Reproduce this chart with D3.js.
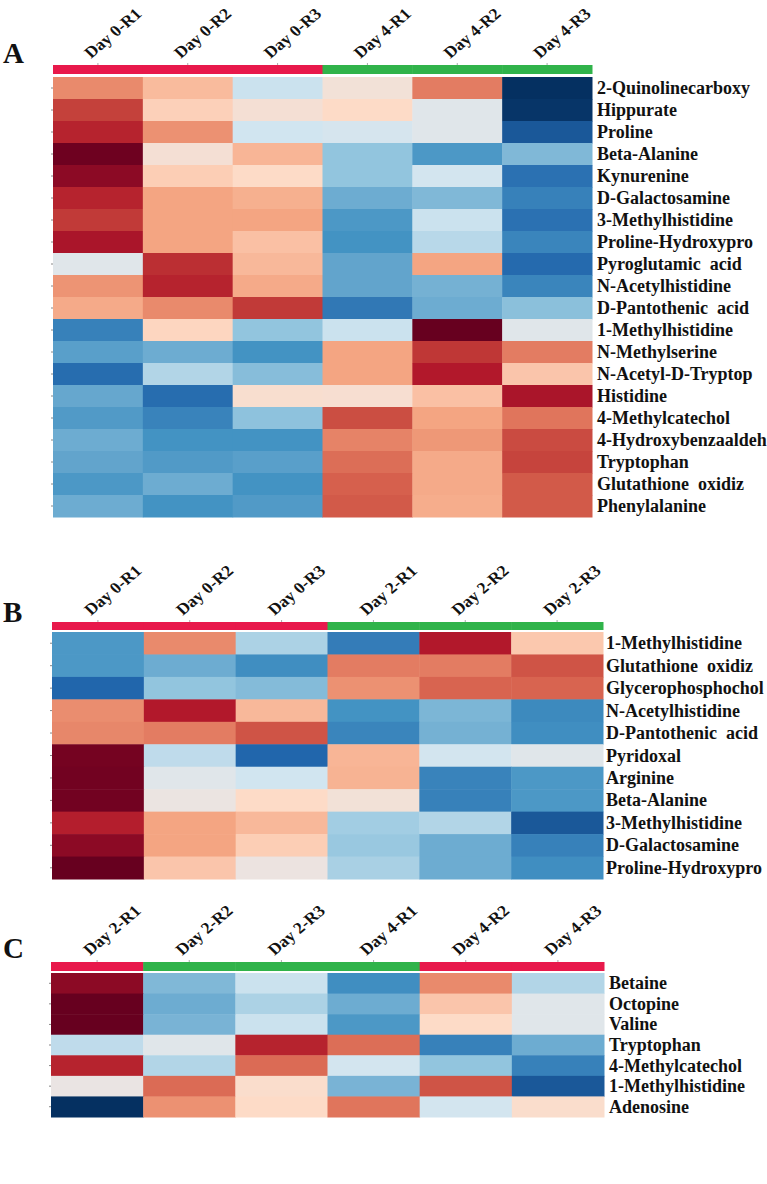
<!DOCTYPE html>
<html><head><meta charset="utf-8">
<script src="https://cdn.jsdelivr.net/npm/d3@7"></script>
<style>
html,body{margin:0;padding:0;background:#fff;}
text{font-family:"Liberation Serif","Times New Roman",serif;font-weight:bold;fill:#111;white-space:pre;}
</style></head>
<body><svg id="chart" width="767" height="1184"></svg>
<script>
// ---------- DATA ----------
const colsA = ["Day 0-R1","Day 0-R2","Day 0-R3","Day 4-R1","Day 4-R2","Day 4-R3"];
const groupA = ["G1","G1","G1","G2","G2","G2"];
const rowsA = ["2-Quinolinecarboxy","Hippurate","Proline","Beta-Alanine","Kynurenine","D-Galactosamine","3-Methylhistidine","Proline-Hydroxypro","Pyroglutamic  acid","N-Acetylhistidine","D-Pantothenic  acid","1-Methylhistidine","N-Methylserine","N-Acetyl-D-Tryptop","Histidine","4-Methylcatechol","4-Hydroxybenzaaldeh","Tryptophan","Glutathione  oxidiz","Phenylalanine"];
const valuesA = [
  [0.48,0.32,-0.22,0.10,0.52,-1.00],
  [0.70,0.24,0.12,0.20,-0.06,-0.98],
  [0.78,0.46,-0.20,-0.15,-0.06,-0.85],
  [0.98,0.12,0.34,-0.40,-0.58,-0.45],
  [0.90,0.25,0.20,-0.40,-0.18,-0.75],
  [0.78,0.40,0.36,-0.50,-0.45,-0.68],
  [0.72,0.40,0.40,-0.58,-0.22,-0.75],
  [0.82,0.40,0.30,-0.60,-0.28,-0.66],
  [-0.06,0.75,0.33,-0.53,0.40,-0.78],
  [0.45,0.78,0.38,-0.53,-0.48,-0.66],
  [0.38,0.48,0.72,-0.72,-0.50,-0.42],
  [-0.68,0.22,-0.40,-0.22,1.00,-0.06],
  [-0.55,-0.50,-0.60,0.40,0.73,0.52],
  [-0.77,-0.30,-0.43,0.40,0.80,0.28],
  [-0.52,-0.77,0.15,0.14,0.30,0.82],
  [-0.57,-0.67,-0.41,0.66,0.40,0.54],
  [-0.50,-0.60,-0.60,0.50,0.44,0.67],
  [-0.53,-0.57,-0.55,0.56,0.38,0.69],
  [-0.58,-0.50,-0.60,0.60,0.38,0.62],
  [-0.50,-0.60,-0.57,0.62,0.37,0.62]
];

const colsB = ["Day 0-R1","Day 0-R2","Day 0-R3","Day 2-R1","Day 2-R2","Day 2-R3"];
const groupB = ["G1","G1","G1","G2","G2","G2"];
const rowsB = ["1-Methylhistidine","Glutathione  oxidiz","Glycerophosphochol","N-Acetylhistidine","D-Pantothenic  acid","Pyridoxal","Arginine","Beta-Alanine","3-Methylhistidine","D-Galactosamine","Proline-Hydroxypro"];
const valuesB = [
  [-0.58,0.48,-0.32,-0.70,0.80,0.27],
  [-0.58,-0.50,-0.62,0.52,0.52,0.64],
  [-0.80,-0.40,-0.44,0.46,0.59,0.59],
  [0.47,0.80,0.33,-0.60,-0.46,-0.64],
  [0.49,0.52,0.64,-0.66,-0.48,-0.62],
  [0.96,-0.26,-0.80,0.34,-0.18,-0.06],
  [0.97,-0.06,-0.20,0.35,-0.67,-0.58],
  [0.97,0.04,0.20,0.10,-0.68,-0.58],
  [0.79,0.40,0.33,-0.35,-0.30,-0.85],
  [0.90,0.40,0.25,-0.38,-0.50,-0.68],
  [1.00,0.28,0.05,-0.33,-0.50,-0.62]
];

const colsC = ["Day 2-R1","Day 2-R2","Day 2-R3","Day 4-R1","Day 4-R2","Day 4-R3"];
const groupC = ["G1","G2","G2","G2","G1","G1"];
const rowsC = ["Betaine","Octopine","Valine","Tryptophan","4-Methylcatechol","1-Methylhistidine","Adenosine"];
const valuesC = [
  [0.90,-0.45,-0.22,-0.62,0.48,-0.30],
  [1.00,-0.50,-0.32,-0.50,0.28,-0.06],
  [1.00,-0.47,-0.22,-0.58,0.20,-0.06],
  [-0.26,-0.06,0.78,0.56,-0.68,-0.50],
  [0.78,-0.30,0.57,-0.18,-0.40,-0.68],
  [0.03,0.57,0.17,-0.47,0.64,-0.85],
  [-1.00,0.46,0.20,0.54,-0.18,0.17]
];
const panelNames = ["A","B","C"];

// ---------- STYLE / LAYOUT ----------
const groupColor = {G1:"#e8194b", G2:"#30b34a"};
const color = d3.scaleLinear()
  .domain([-1,-0.8,-0.6,-0.4,-0.2,0,0.2,0.4,0.6,0.8,1])
  .range(["#053061","#2166ac","#4393c3","#92c5de","#d1e5f0","#e6e6e8","#fddbc7","#f4a582","#d6604d","#b2182b","#67001f"])
  .interpolate(d3.interpolateLab).clamp(true);

const layouts = [
  {x0:53, x1:592, barY:65,  barH:9, heatY:77,  heatH:440, labelX:597, titleY:63},
  {x0:52, x1:603, barY:622, barH:8, heatY:632, heatH:247, labelX:606, titleY:622},
  {x0:51, x1:604, barY:962, barH:9, heatY:973, heatH:144, labelX:609, titleY:958}
];
const panels = [
  {cols:colsA, groups:groupA, rows:rowsA, values:valuesA},
  {cols:colsB, groups:groupB, rows:rowsB, values:valuesB},
  {cols:colsC, groups:groupC, rows:rowsC, values:valuesC}
];

const svg = d3.select("#chart");

panels.forEach((p, pi) => {
  const L = layouts[pi];
  const g = svg.append("g");
  const x = d3.scaleBand().domain(p.cols).range([L.x0, L.x1]);
  const y = d3.scaleBand().domain(p.rows).range([L.heatY, L.heatY + L.heatH]);

  // panel letter
  g.append("text").attr("x", 3).attr("y", L.titleY)
    .style("font-size", "29px").text(panelNames[pi]);

  // column labels (rotated, slightly widened like the original)
  g.selectAll(".cl").data(p.cols).enter().append("text")
    .attr("transform", d => `translate(${x(d) + x.bandwidth()/2 - 7},${L.barY - 6}) scale(1.1,1) rotate(-43)`)
    .style("font-size", "16px")
    .text(d => d);

  // small ticks on top of the annotation bar (col centers)
  g.selectAll(".ct").data(p.cols).enter().append("line")
    .attr("x1", d => x(d) + x.bandwidth()/2).attr("x2", d => x(d) + x.bandwidth()/2)
    .attr("y1", L.barY - 2).attr("y2", L.barY)
    .attr("stroke", "#aaa").attr("stroke-width", 1);

  // annotation bar
  g.selectAll(".ann").data(p.cols).enter().append("rect")
    .attr("x", d => x(d)).attr("y", L.barY)
    .attr("width", x.bandwidth() + 0.5).attr("height", L.barH)
    .attr("fill", (d, i) => groupColor[p.groups[i]]);

  // cells
  const cells = [];
  p.rows.forEach((r, ri) => p.cols.forEach((c, ci) => cells.push({r, c, v: p.values[ri][ci]})));
  g.selectAll(".cell").data(cells).enter().append("rect")
    .attr("x", d => x(d.c)).attr("y", d => y(d.r))
    .attr("width", x.bandwidth() + 0.5).attr("height", y.bandwidth() + 0.5)
    .attr("fill", d => color(d.v));

  // small left ticks
  g.selectAll(".tk").data(p.rows).enter().append("line")
    .attr("x1", L.x0 - 2).attr("x2", L.x0)
    .attr("y1", d => y(d) + y.bandwidth()/2).attr("y2", d => y(d) + y.bandwidth()/2)
    .attr("stroke", "#888").attr("stroke-width", 1);

  // row labels
  g.selectAll(".rl").data(p.rows).enter().append("text")
    .attr("x", L.labelX)
    .attr("y", d => y(d) + y.bandwidth()/2 + 6)
    .style("font-size", "18px")
    .text(d => d);
});
</script></body></html>
